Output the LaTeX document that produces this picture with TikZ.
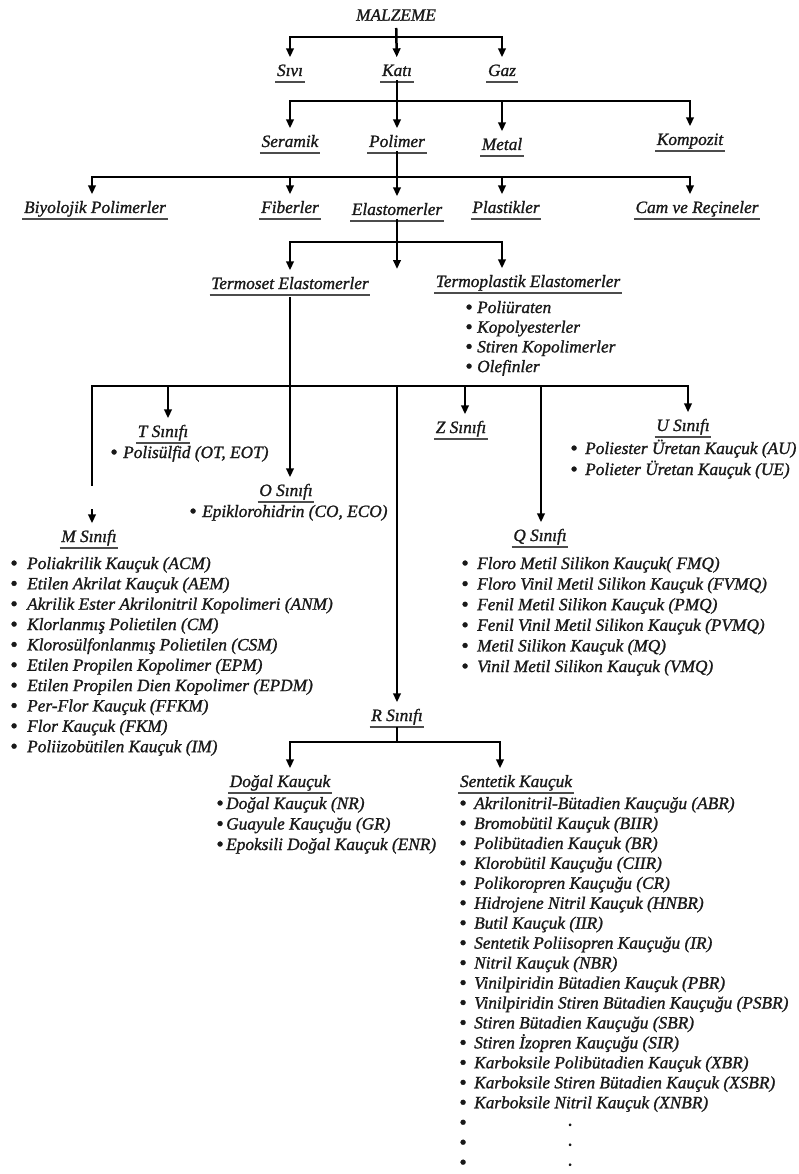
\documentclass[tikz,border=0pt]{standalone}
\usepackage{fontspec}
\setmainfont{Liberation Serif}[ItalicFeatures={FakeBold=1.2}]
\usetikzlibrary{arrows.meta}
\newcommand{\yazi}{\itshape\fontsize{17.3}{20}\selectfont}
\newcommand{\madde}[1][13pt]{\makebox[#1][l]{\raisebox{-1pt}{\fontsize{21}{21}\selectfont\textbullet}}}
\newcommand{\nokta}{{\fontsize{10}{10}\selectfont\textbullet}}

\begin{document}
\begin{tikzpicture}[x=1pt, y=-1pt,
  every node/.style={font=\yazi, text=black!90},
  baslik/.style={inner sep=1.5pt, text height=12pt, text depth=4pt,
    append after command={\pgfextra{\let\ustnode\tikzlastnode}
      (\ustnode.south west) edge[altcizgi] (\ustnode.south east)}},
  altcizgi/.style={draw=black!70, line width=1.8pt},
  item/.style={anchor=west, inner sep=0pt, text height=12pt, text depth=4pt},
  hat/.style={draw=black, line width=2.5pt, line cap=rect},
  ok/.style={hat, -{Triangle[length=9pt, width=7.5pt]}, shorten >=5pt},
]
\useasboundingbox (0,0) rectangle (799,1174);

%% ── Malzeme ──────────────────────────────────
\node (malz) at (396,15) {MALZEME};
\node[baslik] (sivi) at (290,72) {Sıvı};
\node[baslik] (kati) at (397,72) {Katı};
\node[baslik] (gaz)  at (502,72) {Gaz};

\coordinate (b1l) at (290,37);
\coordinate (b1r) at (502,37);
\draw[hat] (b1l) -- (b1r);
\draw[ok, shorten <=5pt] (malz) -- (kati);
\draw[ok] (b1l) -- (sivi);
\draw[ok] (b1r) -- (gaz);

%% ── Katı ─────────────────────────────────────
\node[baslik] (seramik)  at (290,143) {Seramik};
\node[baslik] (polimer)  at (397,143) {Polimer};
\node[baslik] (metal)    at (502,146) {Metal};
\node[baslik] (kompozit) at (690,141) {Kompozit};

\coordinate (b2l) at (290,101);
\coordinate (b2m) at (502,101);
\coordinate (b2r) at (690,101);
\draw[hat] (b2l) -- (b2r);
\draw[ok] (kati) -- (polimer);
\draw[ok] (b2l) -- (seramik);
\draw[ok] (b2m) -- (metal);
\draw[ok] (b2r) -- (kompozit);

%% ── Polimer ──────────────────────────────────
\node[baslik] (biyo)   at (95,209)  {Biyolojik Polimerler};
\node[baslik] (fiber)  at (290,209) {Fiberler};
\node[baslik] (elasto) at (397,211) {Elastomerler};
\node[baslik] (plast)  at (506,209) {Plastikler};
\node[baslik] (cam)    at (697,209) {Cam ve Reçineler};

\coordinate (b3a) at (92,177);
\coordinate (b3b) at (290,177);
\coordinate (b3d) at (502,177);
\coordinate (b3e) at (690,177);
\draw[hat] (b3a) -- (b3e);
\draw[ok] (polimer) -- (elasto);
\draw[ok] (b3a) -- (b3a |- biyo.north);
\draw[ok] (b3b) -- (b3b |- fiber.north);
\draw[ok] (b3d) -- (b3d |- plast.north);
\draw[ok] (b3e) -- (b3e |- cam.north);

%% ── Elastomerler ─────────────────────────────
\node[baslik] (tse) at (290,285) {Termoset Elastomerler};
\node[baslik] (tpe) at (528,283) {Termoplastik Elastomerler};

\coordinate (b4l) at (290,242);
\coordinate (b4r) at (502,242);
\coordinate (bos) at (397,274);
\draw[hat] (b4l) -- (b4r);
\draw[ok] (elasto) -- (bos);
\draw[ok] (b4l) -- (tse);
\draw[ok] (b4r) -- (b4r |- tpe.north);

\foreach \t [count=\i] in {{Poliüraten}, {Kopolyesterler},
    {Stiren Kopolimerler}, {Olefinler}}
  \node[item] (tp\i) at (465, {309+19.7*(\i-1)}) {\madde[12pt]\t};

%% ── Termoset sınıfları ───────────────────────
\node[baslik] (tsin) at (163,433) {T Sınıfı};
\node[baslik] (zsin) at (461,429) {Z Sınıfı};
\node[baslik] (usin) at (683,427) {U Sınıfı};
\node[baslik] (osin) at (286,492) {O Sınıfı};
\node[baslik] (msin) at (89,538)  {M Sınıfı};
\node[baslik] (qsin) at (540,537) {Q Sınıfı};
\node[baslik] (rsin) at (397,717) {R Sınıfı};

\coordinate (b5l)  at (92,386);
\coordinate (b5r)  at (688,386);
\coordinate (tb)   at (168,386);
\coordinate (rb)   at (397,386);
\coordinate (zb)   at (465,386);
\coordinate (qb)   at (541,386);
\coordinate (mkop) at (92,485);
\coordinate (mok)  at (92,510);
\draw[hat] (b5l) -- (b5r);
\draw[ok, shorten <=4pt] (tse.south) -- (tse.south |- osin.north);
\draw[hat] (b5l) -- (mkop);
\draw[ok] (mok) -- (mok |- msin.north);
\draw[ok] (tb) -- (tb |- tsin.north);
\draw[ok] (rb) -- (rsin);
\draw[ok] (zb) -- (zb |- zsin.north);
\draw[ok] (qb) -- (qb |- qsin.north);
\draw[ok] (b5r) -- (b5r |- usin.north);

\node[item] (ts1) at (110,454) {\madde Polisülfid (OT, EOT)};
\node[item] (os1) at (189,513) {\madde Epiklorohidrin (CO, ECO)};

\foreach \t [count=\i] in {{Poliester Üretan Kauçuk (AU)},
    {Polieter Üretan Kauçuk (UE)}}
  \node[item] (u\i) at (570, {450+21*(\i-1)}) {\madde[15pt]\t};

\foreach \t [count=\i] in {{Poliakrilik Kauçuk (ACM)},
    {Etilen Akrilat Kauçuk (AEM)},
    {Akrilik Ester Akrilonitril Kopolimeri (ANM)},
    {Klorlanmış Polietilen (CM)},
    {Klorosülfonlanmış Polietilen (CSM)},
    {Etilen Propilen Kopolimer (EPM)},
    {Etilen Propilen Dien Kopolimer (EPDM)},
    {Per-Flor Kauçuk (FFKM)},
    {Flor Kauçuk (FKM)},
    {Poliizobütilen Kauçuk (IM)}}
  \node[item] (m\i) at (10, {565+20.35*(\i-1)}) {\madde[17pt]\t};

\foreach \t [count=\i] in {{Floro Metil Silikon Kauçuk( FMQ)},
    {Floro Vinil Metil Silikon Kauçuk (FVMQ)},
    {Fenil Metil Silikon Kauçuk (PMQ)},
    {Fenil Vinil Metil Silikon Kauçuk (PVMQ)},
    {Metil Silikon Kauçuk (MQ)},
    {Vinil Metil Silikon Kauçuk (VMQ)}}
  \node[item] (q\i) at (461, {565+20.6*(\i-1)}) {\madde[16pt]\t};

%% ── R sınıfı ─────────────────────────────────
\node[baslik] (dogal)    at (280,783) {Doğal Kauçuk};
\node[baslik] (sentetik) at (516,783) {Sentetik Kauçuk};

\coordinate (b6l) at (290,742);
\coordinate (b6r) at (500,742);
\draw[hat] (b6l) -- (b6r);
\draw[hat, shorten <=2pt] (rsin) -- (rsin |- b6l);
\draw[ok] (b6l) -- (b6l |- dogal.north);
\draw[ok] (b6r) -- (b6r |- sentetik.north);

\foreach \t [count=\i] in {{Doğal Kauçuk (NR)},
    {Guayule Kauçuğu (GR)},
    {Epoksili Doğal Kauçuk (ENR)}}
  \node[item] (d\i) at (216, {805+20.5*(\i-1)}) {\madde[10pt]\t};

\foreach \t [count=\i] in {{Akrilonitril-Bütadien Kauçuğu (ABR)},
    {Bromobütil Kauçuk (BIIR)},
    {Polibütadien Kauçuk (BR)},
    {Klorobütil Kauçuğu (CIIR)},
    {Polikoropren Kauçuğu (CR)},
    {Hidrojene Nitril Kauçuk (HNBR)},
    {Butil Kauçuk (IIR)},
    {Sentetik Poliisopren Kauçuğu (IR)},
    {Nitril Kauçuk (NBR)},
    {Vinilpiridin Bütadien Kauçuk (PBR)},
    {Vinilpiridin Stiren Bütadien Kauçuğu (PSBR)},
    {Stiren Bütadien Kauçuğu (SBR)},
    {Stiren İzopren Kauçuğu (SIR)},
    {Karboksile Polibütadien Kauçuk (XBR)},
    {Karboksile Stiren Bütadien Kauçuk (XSBR)},
    {Karboksile Nitril Kauçuk (XNBR)},
    {\hspace*{94pt}\nokta},
    {\hspace*{94pt}\nokta},
    {\hspace*{94pt}\nokta}}
  \node[item] (s\i) at (459, {805+19.95*(\i-1)}) {\madde[15pt]\t};

\end{tikzpicture}
\end{document}
